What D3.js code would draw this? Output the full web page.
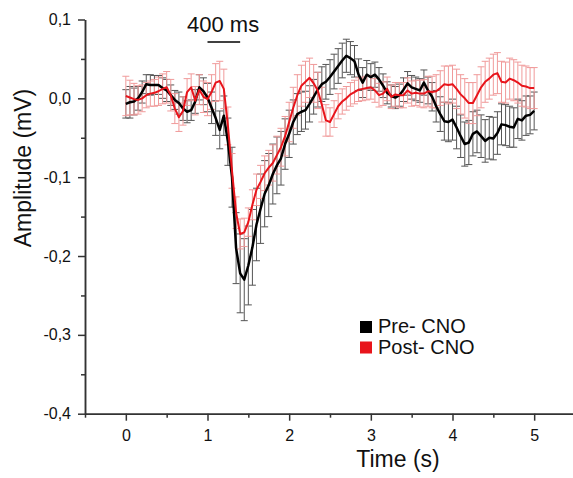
<!DOCTYPE html>
<html lang="en">
<head>
<meta charset="UTF-8">
<title>Amplitude vs Time</title>
<style>
    body { margin: 0; background: #fff; }
    text { font-family: "Liberation Sans", Arial, sans-serif; fill: #111; }
    .axis path, .axis line { stroke: #333; stroke-width: 1.5; }
    .axis text { font-size: 16px; font-family: "Liberation Sans", Arial, sans-serif; fill: #111; }
</style>
</head>
<body>
<svg width="573" height="478"></svg>
<script src="https://cdn.jsdelivr.net/npm/d3@7/dist/d3.min.js"></script>
<script>
// time points (s)
var time = [0.00,0.05,0.10,0.15,0.20,0.25,0.30,0.35,0.40,0.45,
            0.50,0.55,0.60,0.65,0.70,0.75,0.80,0.85,0.90,0.95,
            1.00,1.05,1.10,1.15,1.20,1.25,1.30,1.35,1.40,1.45,
            1.50,1.55,1.60,1.65,1.70,1.75,1.80,1.85,1.90,1.95,
            2.00,2.05,2.10,2.15,2.20,2.25,2.30,2.35,2.40,2.45,
            2.50,2.55,2.60,2.65,2.70,2.75,2.80,2.85,2.90,2.95,
            3.00,3.05,3.10,3.15,3.20,3.25,3.30,3.35,3.40,3.45,
            3.50,3.55,3.60,3.65,3.70,3.75,3.80,3.85,3.90,3.95,
            4.00,4.05,4.10,4.15,4.20,4.25,4.30,4.35,4.40,4.45,
            4.50,4.55,4.60,4.65,4.70,4.75,4.80,4.85,4.90,4.95,
            5.00];

// Pre- CNO mean and SEM (mV)
var pre = [-0.007,-0.005,-0.004,0.000,0.008,0.018,0.017,0.017,0.017,0.013,
           0.010,0.004,-0.002,-0.006,-0.013,-0.017,-0.015,-0.004,0.014,0.009,
           0.001,-0.012,-0.025,-0.040,-0.022,-0.055,-0.100,-0.190,-0.222,-0.230,
           -0.212,-0.189,-0.160,-0.140,-0.121,-0.110,-0.096,-0.085,-0.076,-0.058,
           -0.045,-0.030,-0.020,-0.017,-0.015,-0.007,0.002,0.011,0.018,0.021,
           0.027,0.034,0.041,0.048,0.054,0.051,0.047,0.030,0.020,0.030,
           0.027,0.030,0.024,0.016,0.007,0.003,0.001,0.004,0.011,0.019,
           0.014,0.012,0.010,0.020,0.010,0.002,-0.010,-0.020,-0.029,-0.030,
           -0.027,-0.037,-0.048,-0.058,-0.056,-0.045,-0.042,-0.048,-0.054,-0.050,
           -0.051,-0.044,-0.033,-0.034,-0.036,-0.037,-0.026,-0.028,-0.022,-0.021,
           -0.016];
var preErr = [0.018,0.020,0.017,0.015,0.014,0.012,0.013,0.012,0.012,0.013,
              0.014,0.013,0.012,0.014,0.015,0.014,0.013,0.015,0.016,0.017,
              0.018,0.020,0.022,0.024,0.025,0.030,0.038,0.045,0.050,0.052,
              0.050,0.048,0.046,0.044,0.042,0.040,0.038,0.036,0.034,0.032,
              0.030,0.028,0.026,0.025,0.024,0.023,0.022,0.022,0.022,0.022,
              0.022,0.022,0.022,0.022,0.021,0.021,0.020,0.020,0.019,0.018,
              0.017,0.016,0.015,0.015,0.014,0.014,0.014,0.014,0.015,0.015,
              0.015,0.015,0.015,0.016,0.017,0.018,0.020,0.022,0.024,0.025,
              0.026,0.027,0.027,0.028,0.028,0.028,0.027,0.027,0.027,0.027,
              0.027,0.027,0.026,0.026,0.026,0.025,0.025,0.025,0.025,0.024,
              0.024];

// Post- CNO mean and SEM (mV)
var post = [0.003,0.001,-0.001,-0.002,0.000,0.004,0.006,0.007,0.009,0.012,
            0.014,0.004,-0.013,-0.024,-0.016,0.008,0.014,-0.003,0.011,0.002,
            -0.001,0.008,0.020,0.022,0.012,-0.035,-0.092,-0.145,-0.172,-0.170,
            -0.157,-0.135,-0.116,-0.106,-0.095,-0.088,-0.082,-0.072,-0.062,-0.048,
            -0.030,-0.012,0.004,0.016,0.021,0.026,0.019,0.010,-0.008,-0.028,
            -0.030,-0.020,-0.010,-0.004,0.000,0.005,0.008,0.011,0.012,0.013,
            0.014,0.010,0.004,0.006,0.012,0.002,0.005,0.004,0.004,0.010,
            0.006,0.007,0.006,0.006,0.009,0.008,0.009,0.013,0.018,0.017,
            0.018,0.012,0.005,0.000,-0.006,-0.006,0.004,0.014,0.021,0.025,
            0.030,0.032,0.021,0.020,0.025,0.023,0.020,0.016,0.015,0.013,
            0.013];
var postErr = [0.025,0.022,0.020,0.018,0.017,0.016,0.016,0.017,0.018,0.019,
               0.020,0.020,0.019,0.018,0.018,0.017,0.017,0.018,0.019,0.020,
               0.021,0.022,0.024,0.025,0.025,0.024,0.022,0.020,0.019,0.018,
               0.018,0.019,0.020,0.021,0.022,0.022,0.023,0.024,0.024,0.025,
               0.025,0.026,0.026,0.026,0.026,0.025,0.024,0.023,0.022,0.020,
               0.018,0.017,0.016,0.016,0.015,0.015,0.015,0.015,0.015,0.015,
               0.015,0.015,0.015,0.015,0.015,0.015,0.015,0.016,0.016,0.016,
               0.016,0.016,0.017,0.018,0.019,0.020,0.021,0.022,0.023,0.024,
               0.024,0.025,0.025,0.025,0.026,0.026,0.026,0.026,0.026,0.026,
               0.026,0.026,0.026,0.026,0.026,0.026,0.026,0.026,0.026,0.026,
               0.026];

var xTicks = [0, 1, 2, 3, 4, 5];
var xTickLabels = ["0", "1", "2", "3", "4", "5"];
var yTicks = [-0.4, -0.3, -0.2, -0.1, 0.0, 0.1];
var yTickLabels = ["-0,4", "-0,3", "-0,2", "-0,1", "0,0", "0,1"];

var series = [
    {name: "Pre- CNO",  mean: pre,  err: preErr,  color: "#000",    barColor: "#555",    width: 2.5},
    {name: "Post- CNO", mean: post, err: postErr, color: "#e8141b", barColor: "#f09a9a", width: 2}
];

var svg = d3.select("svg");

var x = d3.scaleLinear().domain([-0.5, 5.5]).range([85, 575]);
var y = d3.scaleLinear().domain([-0.4, 0.1]).range([413.7, 19.5]);

// minor ticks
svg.append("g")
    .attr("class", "axis")
    .attr("transform", "translate(0," + y(-0.4) + ")")
    .call(d3.axisBottom(x).tickValues([-0.5, 0.5, 1.5, 2.5, 3.5, 4.5]).tickSize(4).tickSizeOuter(0).tickFormat(""));
svg.append("g")
    .attr("class", "axis")
    .attr("transform", "translate(" + x(-0.5) + ",0)")
    .call(d3.axisLeft(y).tickValues([-0.35, -0.25, -0.15, -0.05, 0.05]).tickSize(4).tickSizeOuter(0).tickFormat(""));

// major ticks
svg.append("g")
    .attr("class", "axis")
    .attr("transform", "translate(0," + y(-0.4) + ")")
    .call(d3.axisBottom(x).tickValues(xTicks).tickSize(7).tickSizeOuter(0).tickPadding(9)
        .tickFormat(function(d, i) { return xTickLabels[i]; }));
svg.append("g")
    .attr("class", "axis")
    .attr("transform", "translate(" + x(-0.5) + ",0)")
    .call(d3.axisLeft(y).tickValues(yTicks).tickSize(7).tickSizeOuter(0).tickPadding(7)
        .tickFormat(function(d, i) { return yTickLabels[i]; }));

// axis titles
svg.append("text")
    .attr("x", 398).attr("y", 467)
    .attr("text-anchor", "middle")
    .style("font-size", "23px")
    .text("Time (s)");
svg.append("text")
    .attr("transform", "translate(31,168) rotate(-90)")
    .attr("text-anchor", "middle")
    .style("font-size", "23px")
    .text("Amplitude (mV)");

// error bars then lines, per series
var line = d3.line()
    .x(function(d, i) { return x(time[i]); })
    .y(function(d) { return y(d); });

series.forEach(function(s) {
    var eb = svg.append("g")
        .attr("stroke", s.barColor)
        .attr("stroke-width", 1);
    var bars = eb.selectAll("g")
        .data(s.mean)
        .enter().append("g");
    bars.append("line")
        .attr("x1", function(d, i) { return x(time[i]); })
        .attr("x2", function(d, i) { return x(time[i]); })
        .attr("y1", function(d, i) { return y(d - s.err[i]); })
        .attr("y2", function(d, i) { return y(d + s.err[i]); });
    bars.append("line")
        .attr("x1", function(d, i) { return x(time[i]) - 3.5; })
        .attr("x2", function(d, i) { return x(time[i]) + 3.5; })
        .attr("y1", function(d, i) { return y(d + s.err[i]); })
        .attr("y2", function(d, i) { return y(d + s.err[i]); });
    bars.append("line")
        .attr("x1", function(d, i) { return x(time[i]) - 3.5; })
        .attr("x2", function(d, i) { return x(time[i]) + 3.5; })
        .attr("y1", function(d, i) { return y(d - s.err[i]); })
        .attr("y2", function(d, i) { return y(d - s.err[i]); });
});

series.forEach(function(s) {
    svg.append("path")
        .datum(s.mean)
        .attr("fill", "none")
        .attr("stroke", s.color)
        .attr("stroke-width", s.width)
        .attr("stroke-linejoin", "round")
        .attr("d", line);
});

// 400 ms scale bar
svg.append("line")
    .attr("x1", x(1.0)).attr("x2", x(1.4))
    .attr("y1", 42).attr("y2", 42)
    .attr("stroke", "#000").attr("stroke-width", 1.5);
svg.append("text")
    .attr("x", 187).attr("y", 32)
    .style("font-size", "22px")
    .text("400 ms");

// legend
var legend = svg.append("g").attr("transform", "translate(360,320)");
series.forEach(function(s, i) {
    legend.append("rect")
        .attr("x", 0).attr("y", i * 20.5 + 1)
        .attr("width", 12).attr("height", 12)
        .attr("fill", s.color);
    legend.append("text")
        .attr("x", 18).attr("y", i * 21.5 + 12.5)
        .style("font-size", "20px")
        .text(s.name);
});
</script>
</body>
</html>
